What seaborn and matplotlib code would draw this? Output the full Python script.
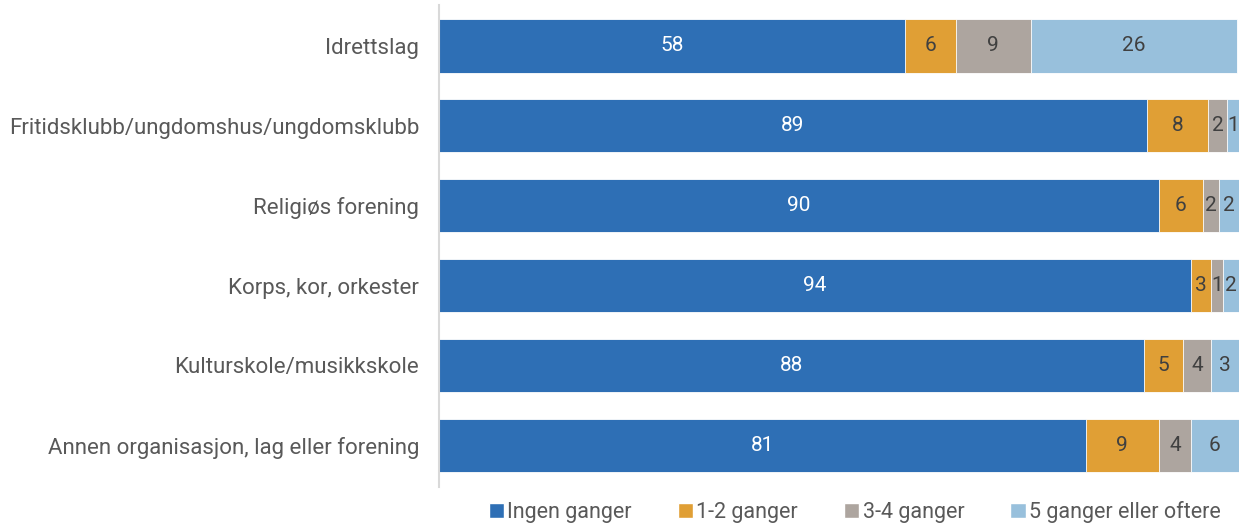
import numpy as np
import matplotlib
matplotlib.use('Agg')
import matplotlib.pyplot as plt
import seaborn as sns
from matplotlib.patches import Patch

# Data (prosent)
kategorier = ['Idrettslag', 'Fritidsklubb/ungdomshus/ungdomsklubb', 'Religiøs forening',
              'Korps, kor, orkester', 'Kulturskole/musikkskole',
              'Annen organisasjon, lag eller forening']
serier = ['Ingen ganger', '1-2 ganger', '3-4 ganger', '5 ganger eller oftere']
ingen = [58.3, 88.6, 90.0, 94.0, 88.2, 80.9]
en_to = [6.4, 7.6, 5.6, 2.6, 4.8, 9.1]
tre_fire = [9.3, 2.4, 2.0, 1.4, 3.6, 4.1]
fem_pluss = [25.8, 1.4, 2.4, 2.0, 3.4, 5.9]

farger = ['#2E6FB5', '#E09F35', '#ADA59F', '#98C0DC']
tekstfarger = ['white', '#404040', '#404040', '#404040']

sns.set_style('white')
plt.rcParams['font.family'] = ['Roboto', 'DejaVu Sans']

fig = plt.figure(figsize=(12.46, 5.28), dpi=100)
ax = fig.add_axes([0.352, 0.0777, 0.642, 0.9128])

verdier = np.array([ingen, en_to, tre_fire, fem_pluss])
kum = np.cumsum(verdier, axis=0)

# Stablede stolper: tegn kumulative summer bakfra
for i in range(3, -1, -1):
    sns.barplot(x=kum[i], y=kategorier, color=farger[i], orient='h', width=0.67,
                edgecolor='white', linewidth=0.6, saturation=1, ax=ax)

for i in range(4):
    for j, kat in enumerate(kategorier):
        v = verdier[i, j]
        ax.text(kum[i, j] - v / 2, j, f'{v:.0f}', ha='center', va='center',
                fontsize=15, color=tekstfarger[i])

ax.set_xlim(0, 100)
ax.set_ylim(5.52, -0.51)
ax.set_xlabel('')
ax.set_ylabel('')
ax.set_xticks([])
ax.tick_params(axis='y', length=0, pad=14, labelsize=16, labelcolor='#595959')
for s in ['top', 'right', 'bottom']:
    ax.spines[s].set_visible(False)
ax.spines['left'].set_color('#D9D9D9')
ax.spines['left'].set_linewidth(1.5)

handles = [Patch(facecolor=farger[i], label=serier[i]) for i in range(4)]
fig.legend(handles=handles, loc='center', bbox_to_anchor=(0.686, 0.03), ncol=4,
           frameon=False, fontsize=15.5, labelcolor='#595959',
           handlelength=0.7, handleheight=0.7, handletextpad=0.15,
           columnspacing=2.15)

fig.savefig('out.png', dpi=100)
